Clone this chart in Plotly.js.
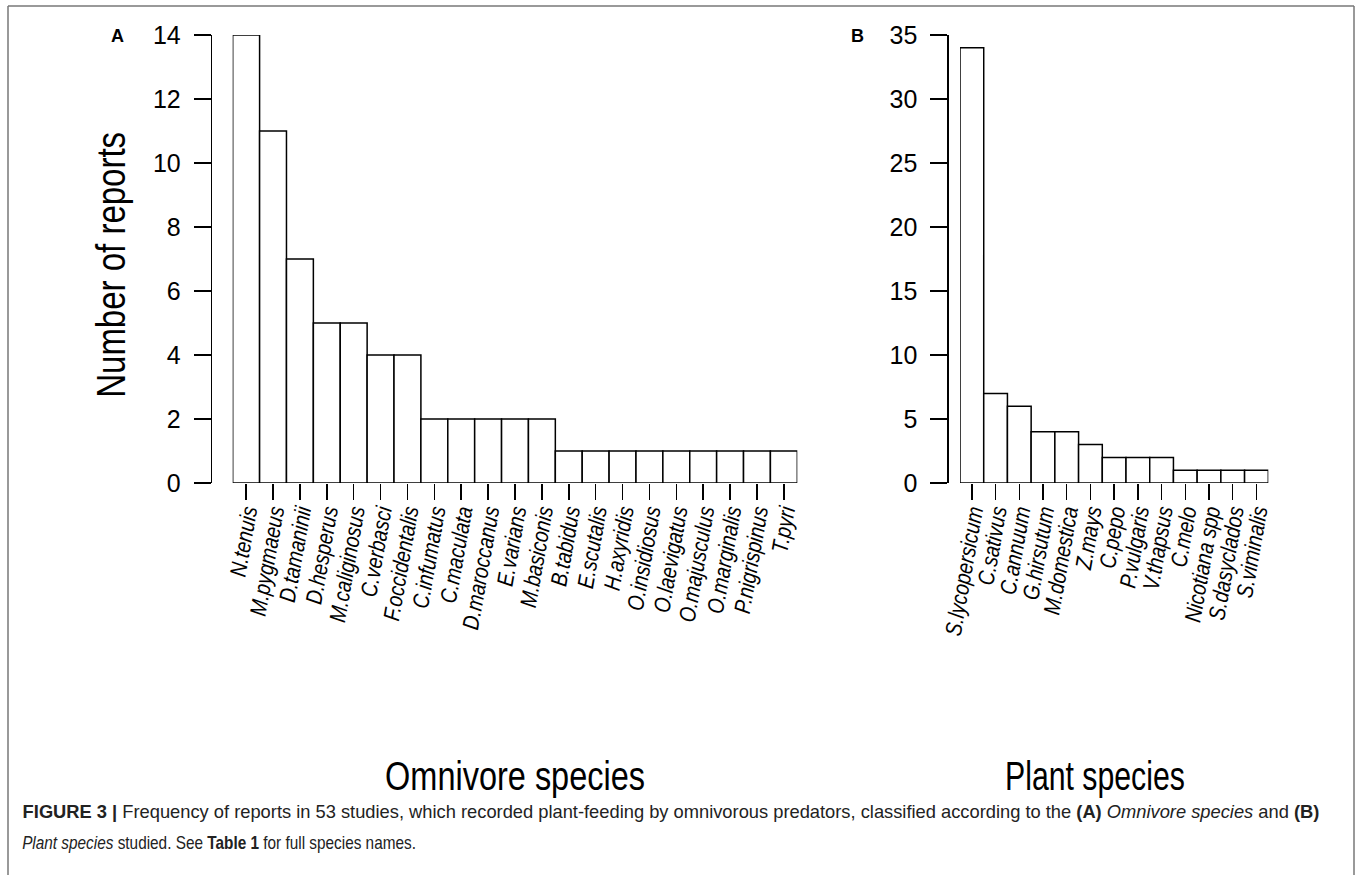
<!DOCTYPE html>
<html><head><meta charset="utf-8">
<script src="https://cdn.plot.ly/plotly-3.0.1.min.js"></script>
<style>html,body{margin:0;padding:0;background:#fff;}#chart{width:1360px;height:875px;}</style>
</head><body><div id="chart"></div>
<script>
const omnivoreSpecies = ["N.tenuis","M.pygmaeus","D.tamaninii","D.hesperus","M.caliginosus","C.verbasci","F.occidentalis","C.infumatus","C.maculata","D.maroccanus","E.varians","M.basiconis","B.tabidus","E.scutalis","H.axyridis","O.insidiosus","O.laevigatus","O.majusculus","O.marginalis","P.nigrispinus","T.pyri"];
const omnivoreReports = [14,11,7,5,5,4,4,2,2,2,2,2,1,1,1,1,1,1,1,1,1];
const plantSpecies = ["S.lycopersicum","C.sativus","C.annuum","G.hirsutum","M.domestica","Z.mays","C.pepo","P.vulgaris","V.thapsus","C.melo","Nicotiana spp","S.dasyclados","S.viminalis"];
const plantReports = [34,7,6,4,4,3,2,2,2,1,1,1,1];
const yTicksA = [0,2,4,6,8,10,12,14];
const yTicksB = [0,5,10,15,20,25,30,35];

const W = 1360, H = 875;
const px = v => v / W, py = v => 1 - v / H;
const SANS = "Liberation Sans, Arial, Helvetica, sans-serif";

const barStyle = {color: "#ffffff", line: {color: "#000000", width: 1.5}};
const traces = [
  {type: "bar", x: omnivoreSpecies, y: omnivoreReports, xaxis: "x", yaxis: "y", marker: barStyle},
  {type: "bar", x: plantSpecies, y: plantReports, xaxis: "x2", yaxis: "y2", marker: barStyle}
];

const xCommon = {
  type: "category", showline: false, showgrid: false, zeroline: false,
  ticks: "outside", ticklen: 16, tickwidth: 1.5, tickcolor: "#000",
  tickangle: -80, ticklabelstandoff: -10,
  tickfont: {family: SANS, size: 23, color: "#000", style: "italic"}
};
const yCommon = {
  showline: true, linecolor: "#000", linewidth: 1.5, showgrid: false, zeroline: false,
  ticks: "outside", ticklen: 17, tickwidth: 1.5, tickcolor: "#000", ticklabelstandoff: 8,
  tickfont: {family: SANS, size: 25, color: "#000"}, anchor: "free", tickmode: "array"
};

function ann(text, x, y, size, extra) {
  return Object.assign({text: text, xref: "paper", yref: "paper", x: px(x), y: py(y),
    xanchor: "center", yanchor: "middle", showarrow: false,
    font: {family: SANS, size: size, color: "#000"}}, extra || {});
}

const layout = {
  width: W, height: H, margin: {l: 0, r: 0, t: 0, b: 0},
  paper_bgcolor: "#fff", plot_bgcolor: "rgba(0,0,0,0)", showlegend: false,
  bargap: 0,
  xaxis: Object.assign({}, xCommon, {domain: [px(232.7), px(797.3)], range: [-0.5, 20.5], anchor: "y",
    tickmode: "array", tickvals: omnivoreSpecies, ticktext: omnivoreSpecies}),
  yaxis: Object.assign({}, yCommon, {domain: [py(483), py(35)], range: [0, 14], tickvals: yTicksA, position: px(210.7)}),
  xaxis2: Object.assign({}, xCommon, {domain: [px(960), px(1268.3)], range: [-0.5, 12.5], anchor: "y2",
    tickmode: "array", tickvals: plantSpecies, ticktext: plantSpecies}),
  yaxis2: Object.assign({}, yCommon, {domain: [py(483), py(35)], range: [0, 35], tickvals: yTicksB, position: px(947.3)}),
  shapes: [
    {type: "line", xref: "paper", yref: "paper", x0: px(8), x1: px(1354), y0: py(6), y1: py(6), line: {color: "#777", width: 1.5}},
    {type: "line", xref: "paper", yref: "paper", x0: px(8), x1: px(8), y0: py(6), y1: 0, line: {color: "#777", width: 1.5}},
    {type: "line", xref: "paper", yref: "paper", x0: px(1354), x1: px(1354), y0: py(6), y1: 0, line: {color: "#777", width: 1.5}}
  ],
  annotations: [
    ann("<b>A</b>", 117, 36, 18),
    ann("<b>B</b>", 857, 36, 18),
    ann("Number of reports", 111, 265, 40, {textangle: -90, name: "sq:266"}),
    ann("Omnivore species", 515, 776, 40, {name: "sq:260"}),
    ann("Plant species", 1095, 776, 40, {name: "sq:180"}),
    ann("<b>FIGURE 3 |</b> Frequency of reports in 53 studies, which recorded plant-feeding by omnivorous predators, classified according to the <b>(A)</b> <i>Omnivore species</i> and <b>(B)</b>",
        20, 812, 18, {xanchor: "left", name: "sqL:1298", font: {family: SANS, size: 18, color: "#222"}}),
    ann("<i>Plant species</i> studied. See <b>Table 1</b> for full species names.",
        20, 843, 18, {xanchor: "left", name: "sqL:394", font: {family: SANS, size: 18, color: "#222"}})
  ]
};

const TICK_SQUEEZE = 0.84;

Plotly.newPlot("chart", traces, layout, {staticPlot: true, displayModeBar: false}).then(function (gd) {
  // Condense the large titles and caption horizontally, as in the reference's narrow typeface
  const anns = gd.layout.annotations;
  gd.querySelectorAll("g.annotation").forEach(function (g) {
    const a = anns[+g.getAttribute("data-index")];
    if (!a || !a.name) return;
    const parts = a.name.split(":");
    const t = g.querySelector("text.annotation-text");
    if (!t) return;
    const w = t.getBBox().width;
    if (!w) return;
    t.style.transformBox = "fill-box";
    t.style.transformOrigin = parts[0] === "sqL" ? "left center" : "center center";
    t.style.transform = "scaleX(" + (+parts[1] / w).toFixed(4) + ")";
  });
  // Condense the rotated category labels along their reading direction, keeping their anchor at the tick
  gd.querySelectorAll("g.xtick text, g.x2tick text").forEach(function (t) {
    const x = parseFloat(t.getAttribute("x")) || 0;
    const y = parseFloat(t.getAttribute("y")) || 0;
    const tr = t.getAttribute("transform") || "";
    t.setAttribute("transform", tr + " translate(" + x + "," + y + ") scale(" + TICK_SQUEEZE + ",1) translate(" + (-x) + "," + (-y) + ")");
  });
});
</script>
</body></html>
